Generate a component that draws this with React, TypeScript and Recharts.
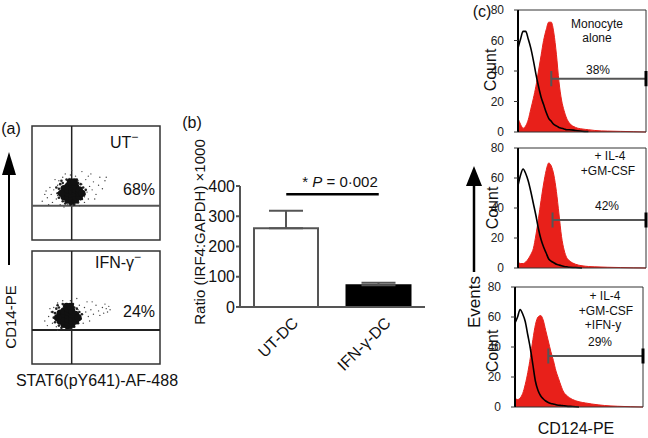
import React from 'react';
import {
  ScatterChart,
  Scatter,
  XAxis,
  YAxis,
  ReferenceLine,
  ReferenceArea,
  BarChart,
  Bar,
  Cell,
  ErrorBar,
  ComposedChart,
  Area,
  Line,
} from 'recharts';

const FONT = '"Liberation Sans", Arial, Helvetica, sans-serif';

// (a) flow cytometry dot plots, STAT6 (x) vs CD14 (y), 0-100 scale
const utCore = [
  [25, 38], [25, 42], [25, 45], [28, 35], [28, 38], [28, 41], [28, 44], [28, 47],
  [31, 34], [31, 37], [31, 40], [31, 43], [31, 46], [31, 49], [34, 35], [34, 38],
  [34, 41], [34, 44], [34, 47], [37, 38], [37, 41], [37, 44], [23, 41], [39, 41],
  [30, 51], [33, 51],
];
const utHalo = [
  [21, 37], [21, 45], [22, 49], [24, 34], [24, 50], [26, 32], [27, 53], [30, 31], [33, 31],
  [36, 33], [36, 50], [39, 36], [40, 46], [41, 40], [38, 49], [20, 41], [23, 52], [35, 53],
  [42, 44], [19, 46],
];
const utSpread = [
  [8, 34], [12, 37], [15, 40], [17, 44], [19, 36], [20, 48], [21, 52], [22, 31], [23, 45],
  [24, 55], [25, 34], [26, 58], [27, 50], [28, 31], [29, 54], [30, 57], [32, 30], [33, 53],
  [34, 56], [35, 33], [36, 52], [38, 35], [39, 49], [40, 46], [41, 38], [42, 53], [43, 42],
  [44, 36], [45, 47], [47, 44], [48, 51], [50, 40], [52, 48], [55, 45], [57, 52], [58, 55],
  [46, 58], [18, 53], [14, 46], [11, 43], [16, 33], [20, 39], [37, 30], [41, 33], [44, 56],
  [49, 36], [53, 55], [39, 60], [31, 61], [25, 29], [10, 40], [13, 31],
];
const ifnCore = [
  [22, 38], [22, 42], [22, 45], [25, 35], [25, 38], [25, 41], [25, 44], [25, 47],
  [28, 34], [28, 37], [28, 40], [28, 43], [28, 46], [28, 49], [31, 35], [31, 38],
  [31, 41], [31, 44], [31, 47], [34, 38], [34, 41], [34, 44], [20, 41], [36, 41],
  [27, 51], [30, 51],
];
const ifnHalo = [
  [18, 37], [18, 45], [19, 49], [21, 34], [21, 50], [23, 32], [24, 53], [27, 31], [30, 31],
  [33, 33], [33, 50], [36, 36], [37, 46], [38, 40], [35, 49], [17, 41], [20, 52], [32, 53],
  [39, 44], [16, 46],
];
const ifnSpread = [
  [10, 38], [13, 42], [15, 46], [16, 36], [17, 50], [18, 40], [19, 33], [20, 54], [34, 37],
  [36, 48], [37, 52], [38, 40], [39, 44], [40, 36], [41, 50], [42, 46], [43, 55], [44, 42],
  [46, 48], [48, 44], [50, 52], [52, 47], [55, 50], [58, 49], [60, 51], [59, 46], [61, 48],
  [57, 53], [30, 56], [24, 56], [27, 31], [33, 33], [12, 34], [14, 49], [45, 38], [35, 58],
  [20, 30], [47, 55], [53, 43], [56, 45],
];
const quadX = 31;
const quadY = [30, 30];

// (b) IRF4:GAPDH ratio
const groups = ['UT-DC', 'IFN-γ-DC'];
const irf4Ratio = [260, 72];
const irf4Err = [58, 8];
const barFills = ['#ffffff', '#000000'];
const ratioTicks = [0, 100, 200, 300, 400];
const sigLevel = 373;

// (c) CD124 histograms
const channel = [0, 2, 4, 6, 8, 10, 12, 14, 16, 18, 20, 22, 24, 26, 28, 30, 32, 34, 36, 38, 40, 45, 50, 55, 60, 70, 80, 90, 100];
const monoRed = [9, 5, 2.5, 4, 8, 15, 22, 30, 40, 50, 60, 67, 72, 72, 65, 51, 33, 21, 14, 9, 6, 3, 2, 1.5, 1, 0.6, 0.4, 0.2, 0];
const monoBlack = [55, 61, 66, 66, 61, 55, 47, 38, 30, 23, 18, 13, 9, 7, 5, 4, 3, 2.5, 2, 1.5, 1.5, 1, 0.5, 0.3, null, null, null, null, null];
const il4Red = [4, 3, 3, 4, 6, 9, 13, 22, 33, 45, 56, 65, 70, 68, 62, 51, 36, 21, 12, 7, 5, 2.5, 1.5, 1, 0.8, 0.5, 0.3, 0.1, 0];
const il4Black = [55, 62, 66, 63, 58, 51, 43, 35, 26, 19, 14, 10, 6, 4.5, 3.5, 2.5, 2, 1.5, 1, 0.8, 0.5, 0.3, 0, null, null, null, null, null, null];
const ifnRed = [6, 5, 6, 9, 15, 23, 33, 45, 55, 60, 61, 58, 51, 44, 37, 31, 24, 19, 14, 10, 8, 5, 3.5, 2.7, 2, 1, 0.5, 0.2, 0];
const ifnBlack = [56, 60, 65, 62, 57, 48, 39, 28, 17, 11, 7.5, 5.5, 4, 3, 2.4, 2, 1.5, 1.2, 1, 0.8, 0.6, 0.3, 0, null, null, null, null, null, null];
const gateStart = [26, 27, 26];
const gateLevel = [35, 32, 34];
const countTicks = [0, 20, 40, 60, 80];

const toPoints = (list: number[][]) => list.map(([x, y]) => ({ x, y }));

const bigDot = (p: any) => <circle cx={p.cx} cy={p.cy} r={3.6} fill="#111" />;
const haloDot = (p: any) => <circle cx={p.cx} cy={p.cy} r={1.3} fill="#222" />;
const smallDot = (p: any) => <circle cx={p.cx} cy={p.cy} r={0.7} fill="#444" />;

function DotPlot({ top, height, core, halo, spread, hLine, hColor }: any) {
  return (
    <div style={{ position: 'absolute', left: 30, top }}>
      <ScatterChart width={132} height={height} margin={{ top: 2, right: 2, bottom: 2, left: 2 }}>
        <XAxis type="number" dataKey="x" domain={[0, 100]} hide />
        <YAxis type="number" dataKey="y" domain={[0, 100]} hide />
        <ReferenceArea x1={0} x2={100} y1={0} y2={100} fill="none" stroke="#333" strokeWidth={1.5} />
        <ReferenceLine x={quadX} stroke="#222" strokeWidth={1.5} />
        <ReferenceLine y={hLine} stroke={hColor} strokeWidth={2} />
        <Scatter data={toPoints(spread)} shape={smallDot} isAnimationActive={false} />
        <Scatter data={toPoints(halo)} shape={haloDot} isAnimationActive={false} />
        <Scatter data={toPoints(core)} shape={bigDot} isAnimationActive={false} />
      </ScatterChart>
    </div>
  );
}

const SlantTick = ({ x, y, payload }: any) => {
  const ax = x + 13;
  const ay = y + 17;
  return (
    <text x={ax} y={ay} transform={`rotate(-45 ${ax} ${ay})`} textAnchor="end" fontSize={16} fontFamily={FONT} fill="#111">
      {payload.value}
    </text>
  );
};

function RatioBars() {
  const rows = groups.map((g, i) => ({ group: g, ratio: irf4Ratio[i], err: [0, irf4Err[i]] }));
  return (
    <div style={{ position: 'absolute', left: 180, top: 170 }}>
      <BarChart width={250} height={220} data={rows} margin={{ top: 16, right: 5, bottom: 23, left: 0 }}>
        <XAxis
          dataKey="group"
          height={60}
          tickLine={false}
          tickSize={0}
          tickMargin={0}
          axisLine={{ stroke: '#555', strokeWidth: 2 }}
          tick={<SlantTick />}
          interval={0}
        />
        <YAxis
          domain={[0, 400]}
          ticks={ratioTicks}
          width={60}
          tickSize={4}
          tickMargin={1}
          axisLine={{ stroke: '#555', strokeWidth: 2 }}
          tickLine={{ stroke: '#555', strokeWidth: 2 }}
          tick={{ fontSize: 16, fill: '#111', fontFamily: FONT }}
        />
        <Bar dataKey="ratio" barSize={64} isAnimationActive={false}>
          {rows.map((r, i) => (
            <Cell key={r.group} fill={barFills[i]} stroke={i === 0 ? '#555' : '#000'} strokeWidth={2} />
          ))}
          <ErrorBar dataKey="err" width={17} stroke="#555" strokeWidth={2} direction="y" />
        </Bar>
        <ReferenceLine
          segment={[{ x: groups[0], y: sigLevel }, { x: groups[1], y: sigLevel }]}
          stroke="#000"
          strokeWidth={2.5}
        />
      </BarChart>
    </div>
  );
}

function Histogram({ left, top, mt, mb, red, black, gi }: any) {
  const rows = channel.map((c, i) => ({ ch: c, red: red[i], black: black[i] }));
  const g0 = gateStart[gi];
  const gy = gateLevel[gi];
  return (
    <div style={{ position: 'absolute', left, top }}>
      <ComposedChart width={178} height={140} data={rows} margin={{ top: mt, right: 2, bottom: mb, left: 0 }}>
        <XAxis type="number" dataKey="ch" domain={[0, 100]} tick={false} tickLine={false} height={2} axisLine={{ stroke: '#333', strokeWidth: 1.2 }} />
        <YAxis
          domain={[0, 80]}
          ticks={countTicks}
          width={48}
          tickSize={4}
          tickMargin={10}
          axisLine={{ stroke: '#000', strokeWidth: 2 }}
          tickLine={{ stroke: '#333' }}
          tick={{ fontSize: 12, fill: '#222', fontFamily: FONT }}
        />
        <ReferenceLine y={80} stroke="#333" strokeWidth={1} />
        <ReferenceLine x={100} stroke="#333" strokeWidth={1} />
        <Area type="monotone" dataKey="red" fill="#e8201a" fillOpacity={1} stroke="#e8201a" strokeWidth={1} isAnimationActive={false} />
        <Line type="monotone" dataKey="black" stroke="#000" strokeWidth={1.6} dot={false} isAnimationActive={false} />
        <ReferenceLine segment={[{ x: g0, y: gy }, { x: 100, y: gy }]} stroke="#555" strokeWidth={2} />
        <ReferenceLine segment={[{ x: g0, y: gy - 5 }, { x: g0, y: gy + 5 }]} stroke="#555" strokeWidth={2} />
        <ReferenceLine segment={[{ x: 100, y: gy - 5 }, { x: 100, y: gy + 5 }]} stroke="#000" strokeWidth={3} />
      </ComposedChart>
    </div>
  );
}

const txt = { fontFamily: FONT, fill: '#111' };

function Overlay() {
  return (
    <svg width={648} height={438} style={{ position: 'absolute', left: 0, top: 0, pointerEvents: 'none' }}>
      {/* (a) */}
      <text x={11} y={134} fontSize={16} textAnchor="middle" {...txt}>(a)</text>
      <text x={110} y={148} fontSize={16} {...txt}>UT<tspan dy={-7} fontSize={12}>−</tspan></text>
      <text x={139} y={195} fontSize={16} textAnchor="middle" {...txt}>68%</text>
      <text x={95} y={268} fontSize={16} {...txt}>IFN-γ<tspan dy={-7} fontSize={12}>−</tspan></text>
      <text x={139} y={317} fontSize={16} textAnchor="middle" {...txt}>24%</text>
      <text x={97} y={386} fontSize={16} textAnchor="middle" {...txt}>STAT6(pY641)-AF-488</text>
      <text x={10} y={317} fontSize={15} textAnchor="middle" dominantBaseline="central" transform="rotate(-90 10 317)" {...txt}>CD14-PE</text>
      <line x1={9} y1={265} x2={9} y2={172} stroke="#000" strokeWidth={2} />
      <polygon points="9,152 2,175 16,175" fill="#000" />

      {/* (b) */}
      <text x={192} y={128} fontSize={16} textAnchor="middle" {...txt}>(b)</text>
      <text x={199} y={232} fontSize={15} textAnchor="middle" dominantBaseline="central" transform="rotate(-90 199 232)" {...txt}>Ratio (IRF4:GAPDH) ×1000</text>
      <text x={340} y={187} fontSize={15} textAnchor="middle" {...txt}>* <tspan fontStyle="italic">P</tspan> = 0·002</text>

      {/* (c) */}
      <text x={482} y={17} fontSize={16} textAnchor="middle" {...txt}>(c)</text>
      <text x={490} y={70} fontSize={16} textAnchor="middle" dominantBaseline="central" transform="rotate(-90 490 70)" {...txt}>Count</text>
      <text x={492} y={208} fontSize={16} textAnchor="middle" dominantBaseline="central" transform="rotate(-90 492 208)" {...txt}>Count</text>
      <text x={492} y={351} fontSize={16} textAnchor="middle" dominantBaseline="central" transform="rotate(-90 492 351)" {...txt}>Count</text>
      <text x={474} y={302} fontSize={17} textAnchor="middle" dominantBaseline="central" transform="rotate(-90 474 302)" {...txt}>Events</text>
      <line x1={474} y1={272} x2={474} y2={182} stroke="#000" strokeWidth={2.5} />
      <polygon points="474,166 466,186 482,186" fill="#000" />

      <text x={597} y={28} fontSize={12} textAnchor="middle" {...txt}>Monocyte</text>
      <text x={597} y={42} fontSize={12} textAnchor="middle" {...txt}>alone</text>
      <text x={598} y={74} fontSize={12} textAnchor="middle" {...txt}>38%</text>

      <text x={610} y={160} fontSize={12} textAnchor="middle" {...txt}>+ IL-4</text>
      <text x={608} y={175} fontSize={12} textAnchor="middle" {...txt}>+GM-CSF</text>
      <text x={607} y={210} fontSize={12} textAnchor="middle" {...txt}>42%</text>

      <text x={605} y={300} fontSize={12} textAnchor="middle" {...txt}>+ IL-4</text>
      <text x={606} y={315} fontSize={12} textAnchor="middle" {...txt}>+GM-CSF</text>
      <text x={603} y={329} fontSize={12} textAnchor="middle" {...txt}>+IFN-y</text>
      <text x={600} y={346} fontSize={12} textAnchor="middle" {...txt}>29%</text>

      <text x={576} y={434} fontSize={16} textAnchor="middle" {...txt}>CD124-PE</text>
    </svg>
  );
}

export default function App() {
  return (
    <div style={{ position: 'fixed', left: 0, top: 0, width: 648, height: 438, background: '#fff', overflow: 'hidden' }}>
      <DotPlot top={124} height={118} core={utCore} halo={utHalo} spread={utSpread} hLine={quadY[0]} hColor="#555" />
      <DotPlot top={249} height={117} core={ifnCore} halo={ifnHalo} spread={ifnSpread} hLine={quadY[1]} hColor="#222" />
      <RatioBars />
      <Histogram left={470} top={0} mt={10} mb={6} red={monoRed} black={monoBlack} gi={0} />
      <Histogram left={470} top={140} mt={8} mb={10} red={il4Red} black={il4Black} gi={1} />
      <Histogram left={467} top={278} mt={9} mb={9} red={ifnRed} black={ifnBlack} gi={2} />
      <Overlay />
    </div>
  );
}
